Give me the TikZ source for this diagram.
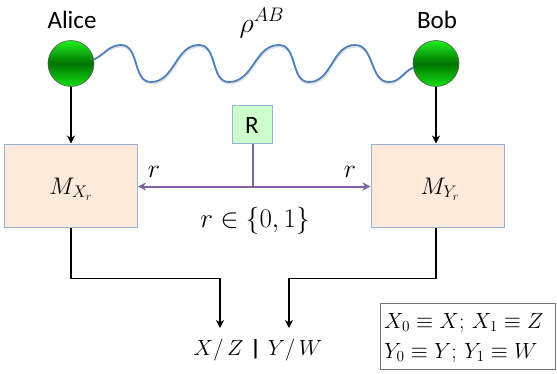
\RequirePackage{fix-cm}
\documentclass[tikz,border=0pt]{standalone}
\usepackage{fontspec}
\newfontfamily\calib{Carlito}
\usetikzlibrary{arrows.meta}
\definecolor{peach}{RGB}{253,234,218}
\definecolor{boxblue}{RGB}{149,179,215}
\definecolor{lgreen}{RGB}{204,255,204}
\definecolor{purp}{RGB}{128,100,162}
\definecolor{wavec}{RGB}{79,129,189}
\definecolor{gtop}{RGB}{30,240,30}
\definecolor{gmid}{RGB}{0,115,0}
\definecolor{gbot}{RGB}{20,225,20}
\begin{document}
\begin{tikzpicture}[x=1pt,y=-1pt,
  party/.style={circle,minimum size=46pt,inner sep=0pt,draw=black!65,line width=0.6pt,
    top color=gtop,bottom color=gbot,middle color=gmid},
  mbox/.style={rectangle,fill=peach,draw=boxblue,line width=1pt,minimum width=133pt,minimum height=83pt,inner sep=0pt},
  rbx/.style={rectangle,fill=lgreen,draw=boxblue,line width=1pt,minimum width=40pt,minimum height=38pt,inner sep=0pt},
  lab/.style={font=\calib\fontsize{25}{30}\selectfont,inner sep=0pt,anchor=base},
  mth/.style={font=\fontsize{26}{30}\selectfont,inner sep=0pt,anchor=base},
  mthb/.style={font=\fontsize{22}{30}\selectfont,inner sep=0pt,anchor=base},
  blk/.style={line width=1.5pt,-{Stealth[length=8pt,width=8pt,inset=2.5pt]}},
  pur/.style={draw=purp,line width=2pt,-{Stealth[length=8pt,width=8pt,inset=2.5pt]}},
]
\useasboundingbox (0,0) rectangle (557,373);

% parties
\node[party] (alice) at (71,63.5) {};
\node[party] (bob) at (436,63.5) {};
\node[lab] (alicel) at (72,28) {Alice};
\node[lab] (bobl) at (437,28) {Bob};
\node[mth,font=\fontsize{28}{30}\selectfont] (rho) at (262,32) {$\rho^{AB}$};

% wavy state
\newcommand\wavy{(alice.10) to[out=25,in=180] (121,45) to[out=0,in=180] (151,82)
  to[out=0,in=180] (199,45) to[out=0,in=180] (229,82)
  to[out=0,in=180] (279,45) to[out=0,in=180] (309,82)
  to[out=0,in=180] (355,45) to[out=0,in=180] (389,82) to[out=0,in=205] (bob.190)}
\begin{scope}[shift={(0.6,1.6)}]
\draw[black!12,line width=1.8pt] \wavy;
\end{scope}
\draw[wavec,line width=1.8pt] \wavy;

% measurement boxes
\node[mbox] (lbox) at (71,185.5) {};
\node[mbox] (rbox) at (437.5,185.5) {};
\node[mthb,font=\fontsize{24}{30}\selectfont] (mx) at (71,194) {$M_{X_r}$};
\node[mthb,font=\fontsize{24}{30}\selectfont] (my) at (440,194) {$M_{Y_r}$};

\draw[blk] (alice.south) -- (lbox.north);
\draw[blk] (bob.south) -- (bob.south |- rbox.north);

% random bit
\node[rbx] (R) at (252,124) {};
\node[lab] (Rl) at (252,133) {R};
\coordinate (j) at (253,186.5);
\draw[purp,line width=2pt] (R.south -| j) -- (j);
\draw[pur] (j) -- (lbox.east |- j);
\draw[pur] (j) -- (rbox.west |- j);
\node[mth] (rl) at (154,177) {$r$};
\node[mth] (rr) at (350,177) {$r$};
\node[mth,font=\fontsize{27}{30}\selectfont] (rset) at (255,227) {$r\in\{0,1\}$};

% outputs
\coordinate (tipL) at (220,328);
\coordinate (tipR) at (289,328);
\draw[blk] (lbox.south) -- ++(0,51) -| (tipL);
\draw[blk] (rbox.south -| bob.south) -- ++(0,51) -| (tipR);
\node[mthb] (out) at (258,355) {$X/\,Z$\hspace{7pt}{\calib\bfseries|}\hspace{7pt}$Y/\,W$};

% legend
\node[rectangle,draw=black!55,line width=0.8pt,minimum width=175pt,minimum height=66pt,inner sep=0pt] (tbox) at (468,336) {};
\node[font=\fontsize{22}{30}\selectfont,inner sep=0pt,anchor=base west,align=left] (tl1) at (384,328) {$X_0\equiv X;\,X_1\equiv Z$};
\node[font=\fontsize{22}{30}\selectfont,inner sep=0pt,anchor=base west,align=left] (tl2) at (384,358) {$Y_0\equiv Y;\,Y_1\equiv W$};
\end{tikzpicture}
\end{document}
